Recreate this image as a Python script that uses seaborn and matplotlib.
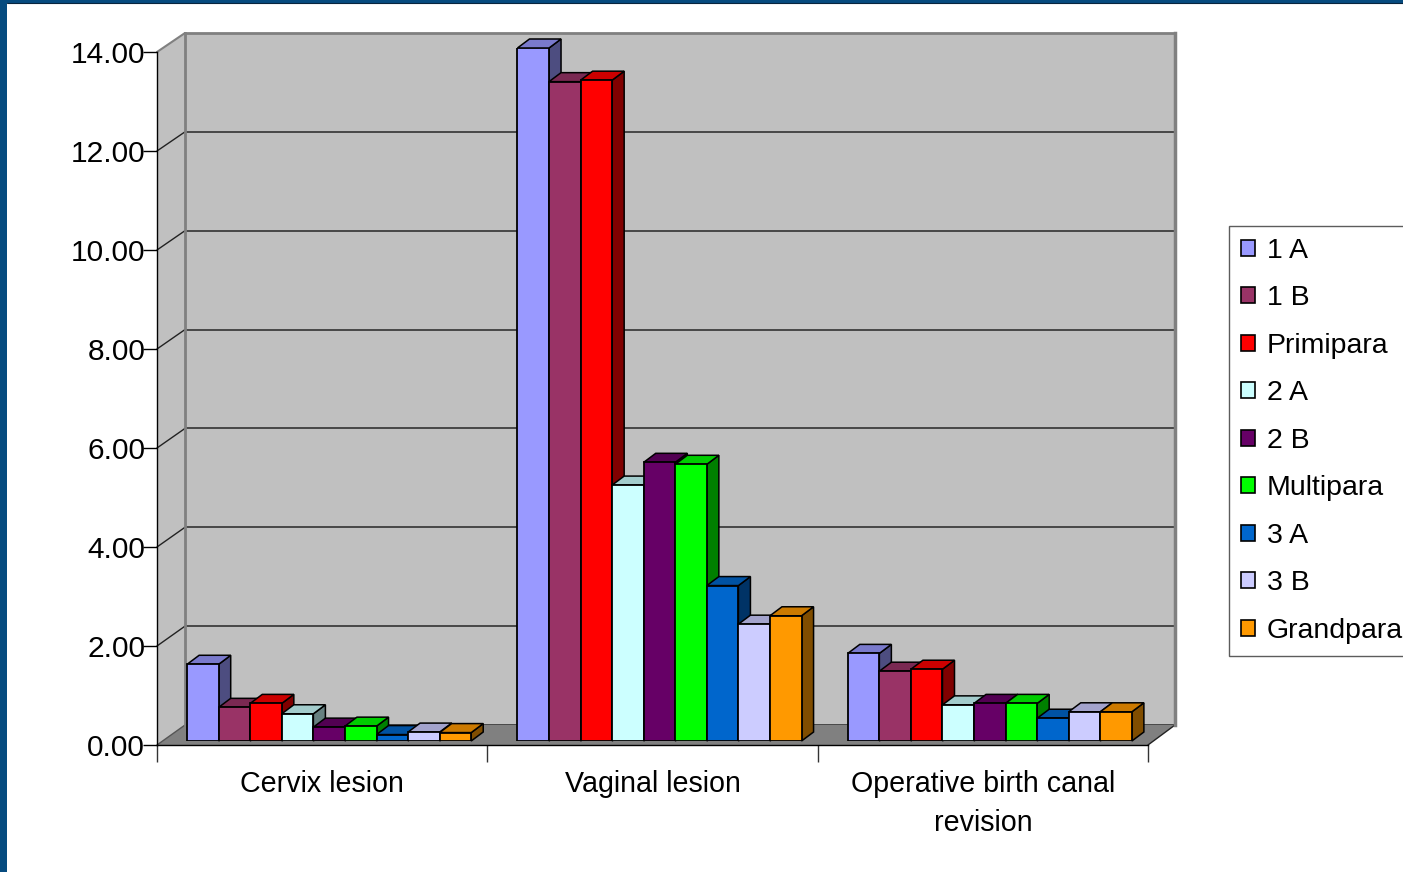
import numpy as np
import pandas as pd
import matplotlib
matplotlib.use("Agg")
import matplotlib.pyplot as plt
from matplotlib.patches import Polygon, Patch, Rectangle
import seaborn as sns

sns.set_theme(style="white")
plt.rcParams['font.family'] = ['Liberation Sans', 'DejaVu Sans']

# input data
lesions = ["Cervix lesion", "Vaginal lesion", "Operative birth canal\nrevision"]
groups = ["1 A", "1 B", "Primipara", "2 A", "2 B", "Multipara", "3 A", "3 B", "Grandpara"]
colors = ["#9999FF", "#993366", "#FF0000", "#CCFFFF", "#660066",
          "#00FF00", "#0066CC", "#CCCCFF", "#FF9900"]

v_1a = [1.55, 14.00, 1.77]
v_1b = [0.68, 13.32, 1.41]
v_primipara = [0.76, 13.35, 1.45]
v_2a = [0.55, 5.17, 0.73]
v_2b = [0.28, 5.63, 0.76]
v_multipara = [0.30, 5.59, 0.76]
v_3a = [0.13, 3.14, 0.46]
v_3b = [0.18, 2.36, 0.59]
v_grandpara = [0.17, 2.53, 0.59]

y_ticks = [0, 2, 4, 6, 8, 10, 12, 14]

series = [v_1a, v_1b, v_primipara, v_2a, v_2b, v_multipara, v_3a, v_3b, v_grandpara]
rows = []
for g, vals in zip(groups, series):
    for les, v in zip(lesions, vals):
        rows.append({"Lesion": les, "Group": g, "Value": v})
df = pd.DataFrame(rows)

W, H = 1403, 872
fig = plt.figure(figsize=(W / 100, H / 100), dpi=100)
fig.patch.set_facecolor("white")


def fx(px):
    return px / W


def fy(py):
    return 1 - py / H


# background: frame border, side wall and floor (pixel coords)
ax_bg = fig.add_axes([0, 0, 1, 1])
ax_bg.set_xlim(0, W)
ax_bg.set_ylim(H, 0)
ax_bg.axis("off")
ax_bg.set_zorder(0)
ax_bg.add_patch(Rectangle((0, 0), 7, H, color="#064b7f", lw=0))
ax_bg.add_patch(Rectangle((0, 0), W, 3, color="#064b7f", lw=0))
ax_bg.plot([7, W], [3, 3], color="#08243d", lw=0.8)

ax_bg.add_patch(Polygon([(157, 745), (157, 52), (185, 33), (185, 725)],
                        closed=True, facecolor="#C0C0C0", edgecolor="none"))
ax_bg.plot([157, 185], [52, 33], color="#808080", lw=1.5)
for v in y_ticks[1:-1]:
    ax_bg.plot([157, 185], [745 - v * 49.5, 725 - v * 49.43], color="#222222", lw=1)
ax_bg.add_patch(Polygon([(157, 745), (1148, 745), (1175, 725), (185, 725)],
                        closed=True, facecolor="#808080", edgecolor="none"))
ax_bg.plot([157, 185], [745, 725], color="#555555", lw=1)
ax_bg.plot([1148, 1175], [745, 725], color="#222222", lw=1)

# back wall
ax_wall = fig.add_axes([fx(185), fy(725), (1175 - 185) / W, (725 - 33) / H])
ax_wall.set_zorder(1)
ax_wall.set_facecolor("#C0C0C0")
ax_wall.set_ylim(0, 14)
ax_wall.set_xlim(0, 1)
ax_wall.set_yticks(y_ticks)
ax_wall.set_xticks([])
ax_wall.tick_params(left=False, labelleft=False)
ax_wall.yaxis.grid(True, color="#333333", lw=1.2)
for s in ["left", "top"]:
    ax_wall.spines[s].set_color("#808080")
    ax_wall.spines[s].set_linewidth(2)
ax_wall.spines["right"].set_color("#808080")
ax_wall.spines["right"].set_linewidth(2.5)
ax_wall.spines["bottom"].set_visible(False)

# front axes (ticks and labels)
ax = fig.add_axes([fx(157), fy(745), (1148 - 157) / W, (745 - 52) / H])
ax.set_zorder(2)
ax.patch.set_alpha(0)
ax.set_xlim(-0.5, 2.5)
ax.set_ylim(0, 14)
ax.set_yticks(y_ticks)
ax.set_yticklabels([f"{v:.2f}" for v in y_ticks], fontsize=21.5, color="black")
ax.set_xticks([0, 1, 2])
ax.set_xticklabels(lesions, fontsize=20.6, color="black", linespacing=1.5)
ax.set_xticks([-0.5, 0.5, 1.5, 2.5], minor=True)
ax.tick_params(axis="y", direction="out", length=10, width=1, color="black", pad=-1.5, left=True)
ax.tick_params(axis="x", which="major", length=0, pad=18)
ax.tick_params(axis="x", which="minor", direction="out", length=12, width=1, color="#333333", bottom=True)
for s in ["top", "right"]:
    ax.spines[s].set_visible(False)
for s in ["left", "bottom"]:
    ax.spines[s].set_color("black")
    ax.spines[s].set_linewidth(1)

# bars
ax_bar = fig.add_axes([fx(164), fy(741), (1155 - 164) / W, 14 * 49.5 / H])
ax_bar.set_zorder(3)
sns.barplot(data=df, x="Lesion", y="Value", hue="Group", order=lesions,
            hue_order=groups, palette=colors, saturation=1, width=0.86,
            edgecolor="black", linewidth=1.3, legend=False, ax=ax_bar)
ax_bar.set_xlim(-0.5, 2.5)
ax_bar.set_ylim(0, 14)
ax_bar.axis("off")
ax_bar.patch.set_alpha(0)

# fake 3D depth faces derived from each bar
dx, dy = 12 / 330, 9 / 49.5
for p in list(ax_bar.patches):
    x, w, h = p.get_x(), p.get_width(), p.get_height()
    c = np.array(p.get_facecolor()[:3])
    p.set_zorder(3)
    top = Polygon([(x, h), (x + w, h), (x + w + dx, h + dy), (x + dx, h + dy)],
                  closed=True, facecolor=c * 0.8, edgecolor="black", lw=1.1,
                  zorder=2, clip_on=False)
    side = Polygon([(x + w, 0), (x + w + dx, dy), (x + w + dx, h + dy), (x + w, h)],
                   closed=True, facecolor=c * 0.5, edgecolor="black", lw=1.1,
                   zorder=1, clip_on=False)
    ax_bar.add_patch(side)
    ax_bar.add_patch(top)

# legend
handles = [Patch(facecolor=c, edgecolor="black", linewidth=1.2) for c in colors]
leg = fig.legend(handles, groups, loc="upper left",
                 bbox_to_anchor=(fx(1229), fy(226)), frameon=True, fancybox=False,
                 edgecolor="#333333", fontsize=20.5, handlelength=0.5, handleheight=0.5,
                 handletextpad=0.4, labelspacing=0.755, borderpad=0.42, borderaxespad=0)
leg.get_frame().set_linewidth(1)
for t in leg.get_texts():
    t.set_color("black")

fig.savefig("out.png", dpi=100)
